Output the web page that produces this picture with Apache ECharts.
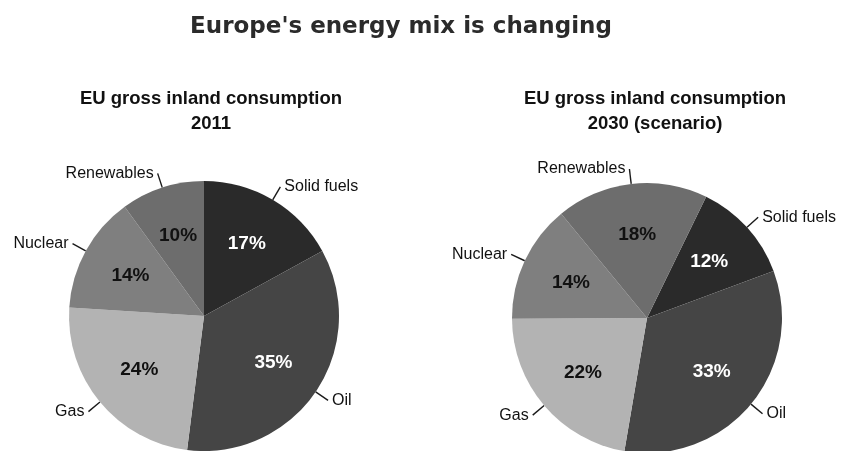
<!DOCTYPE html>
<html>
<head>
<meta charset="utf-8">
<title>Europe's energy mix is changing</title>
<script src="https://cdn.jsdelivr.net/npm/echarts@6/dist/echarts.min.js"></script>
<style>
  html, body { margin: 0; padding: 0; background: #ffffff; }
  #chart { width: 841px; height: 451px; }
</style>
</head>
<body>
<div id="chart"></div>
<script>
// Energy sources, in clockwise slice order
const categories = ['Solid fuels', 'Oil', 'Gas', 'Nuclear', 'Renewables'];
// Share of EU gross inland consumption, percent
const share2011 = [17, 35, 24, 14, 10];
const share2030 = [12, 33, 22, 14, 18];
// Panel headings
const mainTitle = "Europe's energy mix is changing";
const panelTitles = ['EU gross inland consumption\n2011', 'EU gross inland consumption\n2030 (scenario)'];

// Grey shades per source, and the colour of the percentage printed on each slice
const sliceColors = ['#2a2a2a', '#454545', '#b3b3b3', '#7f7f7f', '#6d6d6d'];
const valueTextColors = ['#ffffff', '#ffffff', '#111111', '#111111', '#111111'];

const SANS = '"Liberation Sans", Arial, sans-serif';

function pieSeries(values, center, startAngle) {
  const radius = 135;
  const slices = categories.map((name, i) => ({
    name: name,
    value: values[i],
    itemStyle: { color: sliceColors[i] }
  }));
  // Visible pie with the source names outside
  const named = {
    type: 'pie',
    center: center,
    radius: radius,
    startAngle: startAngle,
    clockwise: true,
    avoidLabelOverlap: false,
    silent: true,
    animation: false,
    label: {
      show: true,
      position: 'outside',
      formatter: '{b}',
      fontFamily: SANS,
      fontSize: 16,
      color: '#111111',
      distanceToLabelLine: 4
    },
    labelLine: {
      show: true,
      length: 15,
      length2: 0,
      lineStyle: { color: '#1a1a1a', width: 1.4 }
    },
    emphasis: { disabled: true },
    data: slices
  };
  // Transparent twin, only there to place the percentages at ~0.6 of the radius
  const percents = {
    type: 'pie',
    center: center,
    radius: radius * 1.2,
    startAngle: startAngle,
    clockwise: true,
    silent: true,
    animation: false,
    z: 5,
    itemStyle: { color: 'rgba(0,0,0,0)' },
    label: {
      show: true,
      position: 'inside',
      formatter: '{c}%',
      fontFamily: SANS,
      fontWeight: 'bold',
      fontSize: 19
    },
    labelLine: { show: false },
    emphasis: { disabled: true },
    data: categories.map((name, i) => ({
      name: name,
      value: values[i],
      label: { color: valueTextColors[i] }
    }))
  };
  return [named, percents];
}

const chart = echarts.init(document.getElementById('chart'), null, { renderer: 'canvas' });
chart.setOption({
  backgroundColor: '#ffffff',
  animation: false,
  title: [
    {
      text: mainTitle,
      left: 396,
      top: 11,
      textAlign: 'center',
      textStyle: {
        fontFamily: '"DejaVu Sans", Verdana, sans-serif',
        fontWeight: 'bold',
        fontSize: 23,
        color: '#2b2b2b'
      }
    },
    {
      text: panelTitles[0],
      left: 206,
      top: 81,
      textAlign: 'center',
      textStyle: {
        fontFamily: SANS,
        fontWeight: 'bold',
        fontSize: 18.5,
        lineHeight: 25,
        color: '#111111'
      }
    },
    {
      text: panelTitles[1],
      left: 650,
      top: 81,
      textAlign: 'center',
      textStyle: {
        fontFamily: SANS,
        fontWeight: 'bold',
        fontSize: 18.5,
        lineHeight: 25,
        color: '#111111'
      }
    }
  ],
  series: [
    ...pieSeries(share2011, [204, 316], 90),
    ...pieSeries(share2030, [647, 318], 64)
  ]
});
</script>
</body>
</html>
